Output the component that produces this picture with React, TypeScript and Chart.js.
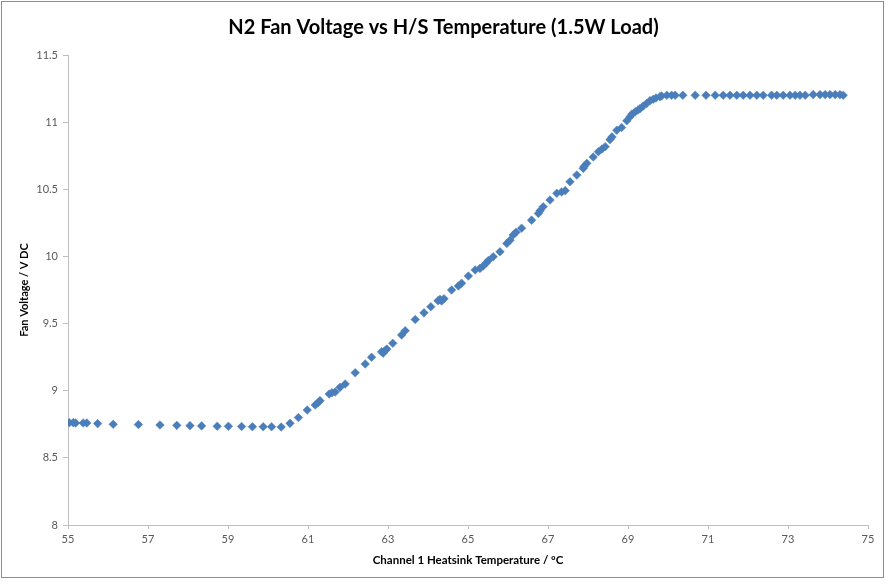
import React, { useEffect, useRef } from "react";
import { Chart, registerables } from "chart.js";

Chart.register(...registerables);

const chartTitle = "N2 Fan Voltage vs H/S Temperature (1.5W Load)";
const xTitle = "Channel 1 Heatsink Temperature / ºC";
const yTitle = "Fan Voltage / V DC";

const temperature: number[] = [
  55.03, 55.13, 55.19, 55.38, 55.47, 55.74, 56.13, 56.76, 57.3, 57.72, 58.05, 58.34, 58.73, 59.01, 59.34, 59.61, 59.88, 60.09, 60.33,
  60.55, 60.76, 60.98, 61.18, 61.25, 61.3, 61.53, 61.6, 61.68, 61.8, 61.93, 62.18, 62.43, 62.59, 62.84, 62.88, 62.93, 62.97, 63.12,
  63.34, 63.43, 63.68, 63.9, 64.07, 64.25, 64.3, 64.34, 64.4, 64.59, 64.76, 64.84, 65.01, 65.18, 65.3, 65.38, 65.45, 65.51, 65.63,
  65.8, 65.97, 66.05, 66.13, 66.2, 66.34, 66.59, 66.76, 66.8, 66.88, 67.05, 67.22, 67.34, 67.43, 67.55, 67.72, 67.88, 67.9, 67.97,
  68.13, 68.26, 68.35, 68.43, 68.55, 68.6, 68.72, 68.84, 68.97, 69.05, 69.1, 69.18, 69.25, 69.3, 69.38, 69.47, 69.55, 69.63, 69.7,
  69.8, 69.84, 69.97, 70.09, 70.18, 70.37, 70.68, 70.95, 71.18, 71.38, 71.55, 71.72, 71.88, 72.05, 72.22, 72.38, 72.59, 72.72,
  72.88, 73.05, 73.18, 73.3, 73.43, 73.63, 73.8, 73.93, 74.05, 74.18, 74.3, 74.38,
];

const voltage: number[] = [
  8.762, 8.762, 8.76, 8.76, 8.76, 8.755, 8.75, 8.748, 8.745, 8.742, 8.74, 8.738, 8.735, 8.735, 8.733, 8.732, 8.732, 8.732, 8.73,
  8.757, 8.8, 8.856, 8.894, 8.91, 8.926, 8.975, 8.985, 8.99, 9.025, 9.05, 9.134, 9.199, 9.249, 9.29, 9.28, 9.3, 9.31, 9.353,
  9.415, 9.447, 9.53, 9.58, 9.625, 9.67, 9.68, 9.668, 9.685, 9.75, 9.78, 9.8, 9.854, 9.899, 9.911, 9.929, 9.95, 9.97, 9.998,
  10.035, 10.097, 10.12, 10.16, 10.18, 10.21, 10.27, 10.32, 10.34, 10.37, 10.42, 10.47, 10.48, 10.49, 10.556, 10.606, 10.656, 10.67, 10.693,
  10.74, 10.78, 10.8, 10.817, 10.87, 10.89, 10.94, 10.96, 11.01, 11.04, 11.06, 11.077, 11.09, 11.1, 11.12, 11.14, 11.16, 11.17, 11.18,
  11.19, 11.195, 11.2, 11.2, 11.2, 11.2, 11.2, 11.2, 11.2, 11.2, 11.2, 11.2, 11.2, 11.2, 11.2, 11.2, 11.2, 11.2,
  11.2, 11.2, 11.2, 11.2, 11.2, 11.205, 11.205, 11.205, 11.205, 11.205, 11.205, 11.2,
];

const xMin = 55, xMax = 75, xStep = 2;
const yMin = 8, yMax = 11.5, yStep = 0.5;

const titlePlugin = {
  id: "centeredTitle",
  afterDraw(chart: any) {
    const ctx = chart.ctx;
    ctx.save();
    ctx.font = "bold 20px Lato";
    ctx.fillStyle = "#000000";
    ctx.textAlign = "center";
    ctx.textBaseline = "middle";
    ctx.fillText(chartTitle, chart.width / 2, 28);
    ctx.restore();
  },
};

export default function App() {
  const ref = useRef<HTMLCanvasElement | null>(null);

  useEffect(() => {
    if (!ref.current) return;
    const points = temperature.map((t, i) => ({ x: t, y: voltage[i] }));
    const axisColor = "#BFBFBF";
    const chart = new Chart(ref.current, {
      type: "scatter",
      data: {
        datasets: [
          {
            data: points,
            pointStyle: "rectRot",
            pointRadius: 4.3,
            pointBackgroundColor: "#4A7EBB",
            pointBorderColor: "#4A7EBB",
            pointBorderWidth: 0.5,
          },
        ],
      },
      plugins: [titlePlugin],
      options: {
        animation: false,
        responsive: false,
        maintainAspectRatio: false,
        layout: { padding: { left: 0, right: 19, top: 55, bottom: 0 } },
        plugins: {
          legend: { display: false },
          tooltip: { enabled: false },
          title: { display: false },
        },
        scales: {
          x: {
            type: "linear",
            min: xMin,
            max: xMax,
            afterFit: (s: any) => { s.height = 56; },
            ticks: {
              stepSize: xStep,
              color: "#595959",
              font: { family: "Lato", size: 11 },
              padding: 4,
              maxRotation: 0,
            },
            grid: {
              display: true,
              drawOnChartArea: false,
              drawTicks: true,
              tickLength: 4,
              color: axisColor,
            },
            border: { display: true, color: axisColor, width: 1 },
            title: {
              display: true,
              text: xTitle,
              color: "#000000",
              font: { family: "Lato", size: 11.5, weight: "bold", lineHeight: 1.2 },
              padding: { top: 0, bottom: 14.2 },
            },
          },
          y: {
            type: "linear",
            min: yMin,
            max: yMax,
            afterFit: (s: any) => { s.width = 68; },
            ticks: {
              stepSize: yStep,
              color: "#595959",
              font: { family: "Lato", size: 11 },
              padding: 5,
              callback: (v: any) => String(Number(v)),
            },
            grid: {
              display: true,
              drawOnChartArea: false,
              drawTicks: true,
              tickLength: 5,
              color: axisColor,
            },
            border: { display: true, color: axisColor, width: 1 },
            title: {
              display: true,
              text: yTitle,
              color: "#000000",
              font: { family: "Lato", size: 11, weight: "bold", lineHeight: 1.2 },
              padding: { top: 17.4, bottom: 0 },
            },
          },
        },
      },
    });
    return () => chart.destroy();
  }, []);

  return (
    <div style={{ position: "fixed", left: 0, top: 0, width: 887, height: 581, background: "#ffffff" }}>
      <canvas ref={ref} width={887} height={581} style={{ display: "block", width: 887, height: 581 }} />
      <div
        style={{
          position: "absolute",
          left: 1,
          top: 1,
          width: 883,
          height: 577,
          border: "1.5px solid #8C8C8C",
          boxSizing: "border-box",
          pointerEvents: "none",
        }}
      />
    </div>
  );
}
